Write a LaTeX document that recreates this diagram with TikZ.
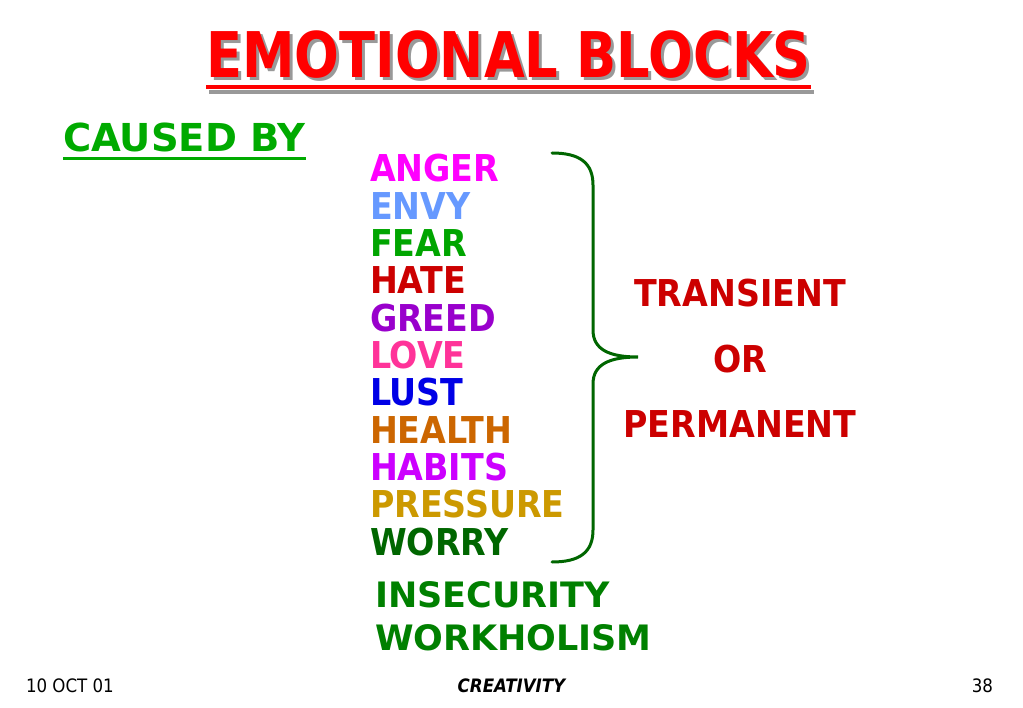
\documentclass[tikz,border=0pt]{standalone}
\usepackage{fontspec}
\setmainfont{DejaVu Sans Condensed}
\newfontfamily\titlefont{DejaVu Sans Condensed}[FakeStretch=0.93]
\newfontfamily\widefont{DejaVu Sans}
\definecolor{titlered}{RGB}{255,0,0}
\definecolor{darkred}{RGB}{204,0,0}
\definecolor{causegreen}{RGB}{0,170,0}
\definecolor{bracegreen}{RGB}{0,102,0}
\definecolor{midgreen}{RGB}{0,128,0}
\definecolor{angercol}{RGB}{255,0,255}
\definecolor{envycol}{RGB}{102,153,255}
\definecolor{fearcol}{RGB}{0,165,0}
\definecolor{greedcol}{RGB}{153,0,204}
\definecolor{lovecol}{RGB}{255,51,153}
\definecolor{lustcol}{RGB}{0,0,230}
\definecolor{healthcol}{RGB}{204,102,0}
\definecolor{habitscol}{RGB}{204,0,255}
\definecolor{pressurecol}{RGB}{204,153,0}
\tikzset{
  txt/.style={inner sep=0pt, outer sep=0pt},
  item/.style={txt, anchor=base west, font=\bfseries\fontsize{37}{37}\selectfont},
  extra/.style={txt, anchor=base west, text=midgreen, font=\widefont\bfseries\fontsize{35}{35}\selectfont},
  result/.style={txt, anchor=base, text=darkred, font=\bfseries\fontsize{37}{37}\selectfont},
  foot/.style={txt, anchor=base, font=\fontsize{18.5}{18.5}\selectfont}
}
\begin{document}
\begin{tikzpicture}[x=1pt,y=-1pt]
  \useasboundingbox[fill=white] (0,0) rectangle (1023,708);
  % title with shadow
  \node[txt, anchor=base, text=black!40, font=\titlefont\bfseries\fontsize{63}{63}\selectfont] (titleshadow) at (511.5,81) {EMOTIONAL BLOCKS};
  \draw[black!40, line width=4pt] ([yshift=-11pt]titleshadow.base west) -- ([yshift=-11pt]titleshadow.base east);
  \node[txt, anchor=base, text=titlered, font=\titlefont\bfseries\fontsize{63}{63}\selectfont] (title) at (508.5,78) {EMOTIONAL BLOCKS};
  \draw[titlered, line width=4pt] ([yshift=-9.5pt]title.base west) -- ([yshift=-9.5pt]title.base east);
  \node[txt, anchor=base west, text=causegreen, font=\widefont\bfseries\fontsize{38.5}{38.5}\selectfont] (cause) at (63,152) {CAUSED BY};
  \draw[causegreen, line width=3pt] ([yshift=-6.5pt]cause.base west) -- ([yshift=-6.5pt]cause.base east);
  % causes
  \foreach \word/\col [count=\i] in {ANGER/angercol, ENVY/envycol, FEAR/fearcol, HATE/darkred, GREED/greedcol, LOVE/lovecol, LUST/lustcol, HEALTH/healthcol, HABITS/habitscol, PRESSURE/pressurecol, WORRY/bracegreen}
    \node[item, text=\col] (w\i) at (370,{182+37.3*(\i-1)}) {\word};
  \node[extra] (insecurity) at (375,607) {INSECURITY};
  \node[extra] (workholism) at (375,650) {WORKHOLISM};
  % brace
  \draw[bracegreen, line width=3pt, line cap=round]
    (552,153) .. controls (580,153) and (593,163) .. (593,185) -- (593,330)
    .. controls (593,350) and (610,357) .. (638,357)
    .. controls (610,357) and (593,364) .. (593,384) -- (593,530)
    .. controls (593,552) and (580,562) .. (552,562);
  \node[result] (transient) at (740,307) {TRANSIENT};
  \node[result] (or) at (740,373) {OR};
  \node[result] (permanent) at (740,438) {PERMANENT};
  % footer
  \node[foot, anchor=base west] (date) at (26,692) {10 OCT 01};
  \node[foot, font=\bfseries\itshape\fontsize{18.5}{18.5}\selectfont] (creativity) at (511.5,692) {CREATIVITY};
  \node[foot, anchor=base east] (page) at (993,692) {38};
\end{tikzpicture}
\end{document}
